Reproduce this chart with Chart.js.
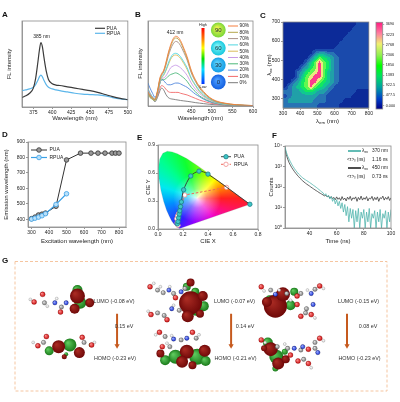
<!DOCTYPE html>
<html>
<head>
<meta charset="utf-8">
<title>PUA / RPUA photophysics</title>
<script src="https://cdn.jsdelivr.net/npm/chart.js@4.4.1/dist/chart.umd.min.js"></script>
<style>
  html, body { margin: 0; padding: 0; background: #fff; }
  #page { position: relative; width: 400px; height: 402px; overflow: hidden; background: #fff; }
  #page canvas { position: absolute; }
  .tag { position: absolute; font: bold 8px 'Liberation Sans', Arial, sans-serif; line-height: 8px; color: #111; }
</style>
</head>
<body>
<div id="page">
  <canvas id="chartA" width="133" height="113" style="left:0px;top:12px"></canvas>
  <canvas id="chartB" width="135" height="113" style="left:130px;top:12px"></canvas>
  <canvas id="chartC" width="112" height="113" style="left:262px;top:12px"></canvas>
  <canvas id="chartCbar" width="28" height="106" style="left:372px;top:12px"></canvas>
  <canvas id="chartD" width="133" height="120" style="left:0px;top:130px"></canvas>
  <canvas id="chartE" width="132" height="120" style="left:133px;top:130px"></canvas>
  <canvas id="chartF" width="135" height="120" style="left:265px;top:130px"></canvas>
  <canvas id="chartG" width="400" height="147" style="left:0px;top:255px"></canvas>
  <div class="tag" style="left:2px;top:11px">A</div>
  <div class="tag" style="left:135px;top:11px">B</div>
  <div class="tag" style="left:260px;top:12px">C</div>
  <div class="tag" style="left:2px;top:131px">D</div>
  <div class="tag" style="left:137px;top:134px">E</div>
  <div class="tag" style="left:272px;top:132px">F</div>
  <div class="tag" style="left:2px;top:257px">G</div>
</div>
<script>
// ---------- A: FL spectra ----------
const aWave  = [360, 365, 370, 375, 378, 381, 383, 385, 387, 389, 392, 395, 400, 405, 410, 420, 430, 440, 450, 460, 470, 480, 490, 500];
const aPUA   = [11, 13, 16, 22, 33, 52, 66, 75, 70, 58, 42, 32, 27, 25.5, 25, 23.5, 22, 20.5, 19, 17, 14.5, 12, 10, 8.5];
const aRPUA  = [19, 20, 21, 23, 26, 31, 35, 37, 35, 31, 26, 23, 21, 20, 19, 17.5, 16, 15, 14.5, 14, 13, 11, 9.5, 8.5];
const aTicks = [375, 400, 425, 450, 475, 500];

// ---------- B: water fraction series ----------
const bWave = [345, 350, 356, 362, 368, 374, 378, 383, 388, 394, 400, 406, 412, 418, 424, 432, 440, 450, 460, 470, 480, 495, 510, 530, 560, 600];
const b90 = [17, 13, 10, 8, 18, 33, 38, 42, 50, 62, 72, 79, 82, 81, 77, 68, 58, 42, 31, 23, 17, 10, 6, 3.5, 1.5, 0.5];
const b80 = [16, 12, 9, 7.5, 17, 32, 37, 41, 49, 61, 70, 77, 80, 79, 75, 66, 56, 41, 30, 22, 16, 9.5, 5.5, 3.2, 1.4, 0.5];
const b70 = [15, 11, 8.5, 7, 16, 31, 36, 40, 47, 58, 67, 73, 76, 75, 71, 63, 54, 39, 29, 21, 15, 9, 5, 3, 1.3, 0.5];
const b60 = [20, 15, 11, 8, 16, 30, 34, 37, 42, 50, 57, 61, 62, 61, 58, 52, 45, 33, 25, 18, 13, 8, 4.5, 2.5, 1.1, 0.4];
const b50 = [14, 10, 8, 6.5, 15, 29, 33, 36, 41, 48, 55, 59, 60, 59, 56, 50, 43, 32, 24, 17, 12, 7.5, 4.2, 2.4, 1, 0.4];
const b40 = [18, 13, 10, 7.5, 15, 28, 32, 33, 35, 40, 45, 47, 48, 47, 45, 41, 36, 27, 20, 15, 11, 6.5, 3.8, 2.2, 1, 0.4];
const b30 = [13, 10, 8, 6.5, 14, 27, 31, 31, 32, 35, 37, 38, 39, 38, 36, 33, 29, 22, 17, 12, 9, 5.5, 3.2, 1.8, 0.8, 0.3];
const b20 = [27, 21, 15, 10, 16, 27, 31, 30, 27, 25, 25, 26, 27, 27, 26, 24, 22, 18, 14, 11, 8, 5, 3, 1.7, 0.8, 0.3];
const b10 = [20, 15, 10, 7, 12, 21, 24, 23, 20, 17, 16, 16, 16, 16, 15, 14, 13, 11, 9, 7, 5.5, 3.5, 2.2, 1.3, 0.6, 0.2];
const b0  = [15, 11, 8, 5, 10, 18, 21, 19, 14, 10, 8.5, 8, 7.5, 7, 6.5, 6, 5.5, 4.8, 4, 3.4, 2.8, 2, 1.4, 0.9, 0.5, 0.2];
const bLabels = ['90%', '80%', '70%', '60%', '50%', '40%', '30%', '20%', '10%', '0%'];
const bColors = ['#f57f3e', '#b4a64c', '#a89088', '#4fd6e0', '#d9bc5b', '#c89be6', '#4cb87a', '#4f86dd', '#f26a6a', '#7a7a7a'];
const bTicks = [450, 500, 550, 600];
const bDrops = ['90', '60', '30', '0'];

// ---------- C: excitation-emission map (levels 0-8, rows from lambda_ex 700 down to 250, columns lambda_em 300..800) ----------
const cRows = [
  '00000000000000000111',
  '00000000000000001111',
  '00000000000000011111',
  '00000000000000111111',
  '00000000000001111111',
  '00000000000011111111',
  '00000002332211111111',
  '00000024654321111111',
  '00000246865321111111',
  '00002356865321111111',
  '00023567864321111111',
  '00024678864321111111',
  '00235688654321111111',
  '02345686543211111111',
  '22334554332111111000',
  '12333333221111110000',
  '23333332221111000000',
  '22222222111110000000'
];
const cEm0 = 300, cExTop = 700, cStep = 25;
const cBarLabels = ['0.000', '477.5', '922.5', '1383', '1850', '2306', '2768', '3223', '3690'];
const cXTicks = [300, 400, 500, 600, 700, 800];
const cYTicks = [300, 400, 500, 600, 700];

// ---------- D: emission vs excitation ----------
const dExPUA  = [300, 320, 340, 360, 380, 440, 500, 580, 640, 680, 720, 760, 780, 800];
const dEmPUA  = [404, 414, 428, 433, 440, 484, 784, 828, 828, 828, 828, 828, 828, 828];
const dExRPUA = [300, 320, 340, 360, 380, 440, 500];
const dEmRPUA = [401, 407, 414, 423, 436, 496, 565];

// ---------- E: CIE 1931 ----------
const cieX = [0.1741, 0.1714, 0.1644, 0.1566, 0.1440, 0.1241, 0.1096, 0.0913, 0.0687, 0.0454, 0.0235, 0.0082, 0.0039, 0.0139, 0.0389, 0.0743, 0.1142, 0.1547, 0.2296, 0.3016, 0.3731, 0.4441, 0.5125, 0.5752, 0.6270, 0.6915, 0.7190, 0.7347];
const cieY = [0.0050, 0.0051, 0.0109, 0.0177, 0.0297, 0.0578, 0.0868, 0.1327, 0.2007, 0.2950, 0.4127, 0.5384, 0.6548, 0.7502, 0.8120, 0.8338, 0.8262, 0.8059, 0.7543, 0.6923, 0.6245, 0.5547, 0.4866, 0.4242, 0.3725, 0.3083, 0.2809, 0.2653];
const ePUAx  = [0.155, 0.160, 0.165, 0.170, 0.174, 0.180, 0.187, 0.205, 0.262, 0.328, 0.400, 0.735];
const ePUAy  = [0.055, 0.080, 0.120, 0.160, 0.195, 0.240, 0.290, 0.420, 0.568, 0.620, 0.588, 0.265];
const eRPUAx = [0.160, 0.152, 0.150, 0.156, 0.165, 0.214, 0.548];
const eRPUAy = [0.040, 0.065, 0.110, 0.140, 0.165, 0.364, 0.446];

// ---------- F: decay curves ----------
const fTime = [22, 23, 24, 25, 26, 27, 28, 29, 30, 31, 32, 33, 34, 35, 36, 37, 38, 39, 40, 41,
  42, 43, 44, 45, 46, 47, 48, 49, 50, 51, 52, 53, 54, 55, 56, 57, 58, 59, 60, 61,
  62, 63, 64, 65, 66, 67, 68, 69, 70, 71, 72, 73, 74, 75, 76, 77, 78, 79, 80, 81,
  82, 83, 84, 85, 86, 87, 88, 89, 90, 91, 92, 93, 94, 95, 96, 97, 98, 99, 100];
const f370 = [9000, 5000, 3200, 2300, 1700, 1250, 980, 780, 630, 520,
  430, 370, 320, 280, 250, 225, 205, 185, 168, 150,
  135, 120, 108, 96, 85, 75, 66, 58, 52, 40,
  47, 33, 40, 26, 34, 20, 28, 15, 24, 12,
  20, 9, 17, 6, 14, 4, 11, 2, 9, 3,
  8, 1, 7, 2, 9, 1, 6, 3, 8, 1,
  6, 2, 9, 1, 5, 3, 7, 1, 6, 2,
  8, 1, 5, 3, 7, 1, 6, 2, 8];
const f450 = [8000, 3800, 2300, 1550, 1150, 880, 700, 560, 460, 380,
  320, 270, 232, 200, 175, 155, 138, 124, 112, 100,
  90, 81, 73, 66, 60, 54, 49, 45, 41, 37,
  40, 33, 36, 29, 34, 27, 31, 24, 33, 25,
  30, 22, 34, 24, 29, 21, 32, 25, 35, 22,
  30, 26, 33, 20, 31, 24, 36, 23, 30, 25,
  34, 21, 29, 26, 35, 22, 31, 24, 33, 20,
  30, 27, 36, 23, 31, 25, 34, 22, 30];

// ---------- G: frontier orbitals (atoms and lobes as bubbles, page units) ----------
const gO = [[33,288],[24,297],[52,309],[37,338],[28,349],[75,339],[85,348],
  [147,279],[174,292],[148,312],[165,318],[157,333],[192,333],[160,350],
  [265,279],[303,290],[327,278],[303,300],[307,314],[318,312],[265,342],[315,353],[327,340],[315,370],[304,367],[296,360]];
const gN = [[46,298],[58,298],[167,283],[180,285],[170,305],[172,341],[186,340],
  [280,288],[318,287],[320,300],[300,352],[309,350],[325,357]];
const gC = [[35,298],[53,303],[34,345],[77,345],
  [155,283],[161,286],[172,287],[184,281],[155,310],[162,313],[178,307],[163,338],[180,342],[196,340],[168,350],
  [275,283],[292,287],[307,287],[322,282],[313,305],[312,310],[282,350],[293,352],[307,354],[322,352],[322,345],[310,365]];
const gH = [[20,294],[38,302],[48,293],[23,345],[88,345],
  [151,275],[158,279],[168,279],[145,308],[172,301],[153,336],[170,337],[199,336],[165,346],
  [268,284],[284,283],[314,283],[331,281],[322,316],[296,295],[269,345],[331,343],[318,375],[290,347]];
const gRed = [[70,290,7.5],[83,298,4.5],[67,305,5],[50,350,6.5],[72,357,5.5],[56,362,2.5],
  [190,298,11.5],[187,314,6],[190,274,4],[203,290,5],[200,311,4],[186,356,7],[181,368,6],[158,358,4],[205,355,6],[192,372,4],
  [280,302,11.5],[288,288,7],[271,297,5],[275,353,7],[283,370,6],[291,365,4],[268,352,3]];
const gGreen = [[70,283,5],[73,298,6],[40,355,4.5],[62,348,6.5],[58,359,2],[84,348,2],
  [196,305,7],[186,279,4],[195,285,4],[204,302,5],[174,362,7],[197,362,8],[163,366,5],[206,367,5],
  [274,295,5],[296,301,5],[300,285,4],[283,292,4],[272,345,5],[281,362,7],[280,376,3],[290,356,3]];
const gArrowX = [112, 233, 356];
const gArrowY = [311, 349];
const gLumo = ['LUMO (-0.08 eV)', 'LUMO (-0.07 eV)', 'LUMO (-0.15 eV)'];
const gHomo = ['HOMO (-0.23 eV)', 'HOMO (-0.21 eV)', 'HOMO (-0.23 eV)'];
const gGap  = ['0.15 eV', '0.14 eV', '0.08 eV'];

// ================= helpers =================
const FONT = "'Liberation Sans', Arial, sans-serif";
Chart.defaults.font.family = FONT;
Chart.defaults.color = '#222';
Chart.defaults.animation = false;
Chart.defaults.events = [];
Chart.defaults.plugins.legend.display = false;
Chart.defaults.plugins.tooltip.enabled = false;

const tickFont = { size: 5 };
const titleFont = { size: 6 };
const gridOpt = { display: true, drawOnChartArea: false, drawTicks: true, tickLength: 2, color: '#555', lineWidth: 0.6 };
const borderOpt = { display: true, color: '#8a8a8a', width: 0.8 };
const sup = ['\u2070', '\u00b9', '\u00b2', '\u00b3', '\u2074'];

const xy = (xs, ys) => xs.map((v, i) => ({ x: v, y: ys[i] }));

function axis(o) {
  const a = {
    type: o.type || 'linear', min: o.min, max: o.max,
    ticks: { display: !o.noLabels, font: tickFont, padding: 1, maxRotation: 0, autoSkip: false, color: '#222' },
    grid: o.noTicks ? { display: false } : gridOpt,
    border: borderOpt,
    title: { display: !!o.title, text: o.title || '', font: titleFont, color: '#222', padding: o.tpad || 0 }
  };
  if (o.position) a.position = o.position;
  if (o.fmt) a.ticks.callback = o.fmt;
  if (o.ticks) a.afterBuildTicks = s => { s.ticks = o.ticks.map(v => ({ value: v })); };
  if (o.size != null) a.afterFit = s => { if (s.isHorizontal()) s.height = o.size; else s.width = o.size; };
  return a;
}

const frame = {
  id: 'frame',
  afterDatasetsDraw(chart) {
    const { ctx, chartArea: a } = chart;
    ctx.save();
    ctx.strokeStyle = '#8a8a8a';
    ctx.lineWidth = 0.8;
    ctx.strokeRect(a.left, a.top, a.right - a.left, a.bottom - a.top);
    ctx.restore();
  }
};

// draws extra marks in page coordinates
function deco(draw) {
  return {
    id: 'deco',
    afterDraw(chart) {
      const c = chart.ctx, cv = chart.canvas;
      c.save();
      c.translate(-cv.offsetLeft, -cv.offsetTop);
      draw(c, chart);
      c.restore();
    }
  };
}

function txt(c, s, x, y, size, align, color) {
  c.font = size + 'px ' + FONT;
  c.fillStyle = color || '#222';
  c.textAlign = align || 'left';
  c.textBaseline = 'middle';
  c.fillText(s, x, y);
}

function rich(c, parts, x, y, size, align) {
  const sz = p => (p[1] ? size * 0.72 : size);
  let w = 0;
  parts.forEach(p => { c.font = sz(p) + 'px ' + FONT; w += c.measureText(p[0]).width; });
  let cx = align === 'center' ? x - w / 2 : x;
  c.textAlign = 'left';
  c.textBaseline = 'middle';
  c.fillStyle = '#222';
  parts.forEach(p => {
    c.font = sz(p) + 'px ' + FONT;
    c.fillText(p[0], cx, y + (p[1] === 'sub' ? size * 0.3 : 0));
    cx += c.measureText(p[0]).width;
  });
}

function legLine(c, x1, x2, y, color, w, dash) {
  c.save();
  c.strokeStyle = color;
  c.lineWidth = w;
  if (dash) c.setLineDash(dash);
  c.beginPath(); c.moveTo(x1, y); c.lineTo(x2, y); c.stroke();
  c.restore();
}

function dot(c, x, y, r, fill, stroke) {
  c.beginPath(); c.arc(x, y, r, 0, Math.PI * 2);
  c.fillStyle = fill; c.fill();
  c.lineWidth = 0.8; c.strokeStyle = stroke; c.stroke();
}

// ================= A =================
new Chart(document.getElementById('chartA'), {
  type: 'line',
  data: { datasets: [
    { data: xy(aWave, aPUA), borderColor: '#3b3b3b', borderWidth: 1.2, pointRadius: 0, cubicInterpolationMode: 'monotone' },
    { data: xy(aWave, aRPUA), borderColor: '#5cb6ea', borderWidth: 1.2, pointRadius: 0, cubicInterpolationMode: 'monotone' }
  ]},
  options: {
    responsive: false,
    layout: { padding: { left: 0, top: 9, right: 5, bottom: 0 } },
    scales: {
      x: axis({ min: 360, max: 500, ticks: aTicks, title: 'Wavelength (nm)', tpad: { top: 0, bottom: 3 }, size: 18 }),
      y: axis({ min: 0, max: 100, noLabels: true, noTicks: true, title: 'FL intensity', tpad: { top: 6, bottom: 0 }, size: 22 })
    }
  },
  plugins: [frame, deco(c => {
    legLine(c, 95, 105, 28.3, '#3b3b3b', 1.2);
    txt(c, 'PUA', 106.5, 28.3, 5);
    legLine(c, 95, 105, 33.3, '#5cb6ea', 1.2);
    txt(c, 'RPUA', 106.5, 33.3, 5);
    txt(c, '385 nm', 41.5, 37, 5, 'center');
  })]
});

// ================= B =================
const bSeries = [b90, b80, b70, b60, b50, b40, b30, b20, b10, b0];
new Chart(document.getElementById('chartB'), {
  type: 'line',
  data: { datasets: bSeries.map((s, i) => ({
    data: xy(bWave, s), borderColor: bColors[i], borderWidth: 0.9, pointRadius: 0, cubicInterpolationMode: 'monotone'
  })) },
  options: {
    responsive: false,
    layout: { padding: { left: 0, top: 9, right: 12, bottom: 0 } },
    scales: {
      x: axis({ min: 345, max: 600, ticks: bTicks, title: 'Wavelength (nm)', tpad: { top: 0, bottom: 3 }, size: 19 }),
      y: axis({ min: 0, max: 100, noLabels: true, noTicks: true, title: 'FL intensity', tpad: { top: 6.4, bottom: 0 }, size: 18 })
    }
  },
  plugins: [frame, deco(c => {
    txt(c, '412 nm', 175, 33, 5, 'center');
    // High / Low scale
    const g = c.createLinearGradient(0, 28, 0, 84);
    g.addColorStop(0, '#ff0000'); g.addColorStop(0.2, '#ff8000'); g.addColorStop(0.36, '#ffff00');
    g.addColorStop(0.55, '#00e000'); g.addColorStop(0.74, '#00e0ff'); g.addColorStop(1, '#0030ff');
    c.fillStyle = g; c.fillRect(201.5, 28, 3, 56);
    txt(c, 'High', 203, 25, 3.8, 'center');
    txt(c, 'Low', 203, 87.3, 3.8, 'center');
    // droplets
    const inner = ['#e8f44a', '#7af4f8', '#5ad0fa', '#4a9cff'];
    const outer = ['#7ad63a', '#18c8de', '#139ee6', '#1460e0'];
    const cy = [30, 48, 65, 82];
    bDrops.forEach((s, i) => {
      const rg = c.createRadialGradient(217, cy[i] - 2, 1, 218.3, cy[i], 7.4);
      rg.addColorStop(0, inner[i]); rg.addColorStop(1, outer[i]);
      c.beginPath(); c.arc(218.3, cy[i], 7.4, 0, Math.PI * 2); c.fillStyle = rg; c.fill();
      txt(c, s, 218.3, cy[i] + 0.3, 6, 'center', '#1a2a3a');
    });
    // legend
    bLabels.forEach((s, i) => {
      const y = 26 + i * 6.3;
      legLine(c, 228, 238, y, bColors[i], 1);
      txt(c, s, 239.5, y, 4.8);
    });
  })]
});

// ================= C =================
const heatRGB = [[12, 42, 152], [26, 74, 172], [40, 116, 180], [32, 160, 168], [16, 200, 144], [16, 232, 96], [96, 248, 80], [234, 234, 128], [255, 60, 140]];
const cCells = [];
cRows.forEach((row, r) => {
  for (let k = 0; k < row.length; k++) {
    cCells.push({ x: cEm0 + cStep * k + cStep / 2, y: cExTop - cStep * r - cStep / 2, v: +row[k], r: r, c: k });
  }
});

const heat = {
  id: 'heat',
  beforeDatasetsDraw(chart) {
    const { ctx, chartArea: a, scales: { x, y } } = chart;
    const cells = chart.data.datasets[0].data;
    const grid = [];
    cells.forEach(p => { (grid[p.r] = grid[p.r] || [])[p.c] = p.v; });
    const nr = grid.length, nc = grid[0].length;
    const x0 = cells[0].x, y0 = cells[0].y;
    const s = 3;
    const w = Math.round(a.right - a.left), h = Math.round(a.bottom - a.top);
    const off = document.createElement('canvas');
    off.width = w * s; off.height = h * s;
    const oc = off.getContext('2d');
    const img = oc.createImageData(w * s, h * s);
    for (let j = 0; j < h * s; j++) {
      const ex = y.getValueForPixel(a.top + (j + 0.5) / s);
      const fr = Math.min(Math.max((y0 - ex) / cStep, 0), nr - 1);
      const r0 = Math.min(Math.floor(fr), nr - 2), tr = fr - r0;
      for (let i = 0; i < w * s; i++) {
        const em = x.getValueForPixel(a.left + (i + 0.5) / s);
        const fc = Math.min(Math.max((em - x0) / cStep, 0), nc - 1);
        const c0 = Math.min(Math.floor(fc), nc - 2), tc = fc - c0;
        const v = grid[r0][c0] * (1 - tr) * (1 - tc) + grid[r0][c0 + 1] * (1 - tr) * tc +
                  grid[r0 + 1][c0] * tr * (1 - tc) + grid[r0 + 1][c0 + 1] * tr * tc;
        const col = heatRGB[Math.round(v)];
        const k = (j * w * s + i) * 4;
        img.data[k] = col[0]; img.data[k + 1] = col[1]; img.data[k + 2] = col[2]; img.data[k + 3] = 255;
      }
    }
    oc.putImageData(img, 0, 0);
    ctx.save();
    ctx.drawImage(off, a.left, a.top, w, h);
    ctx.restore();
  }
};

new Chart(document.getElementById('chartC'), {
  type: 'scatter',
  data: { datasets: [{ data: cCells, pointRadius: 0 }] },
  options: {
    responsive: false,
    layout: { padding: { left: 0, top: 10, right: 2, bottom: 0 } },
    scales: {
      x: axis({ min: 300, max: 800, ticks: cXTicks, size: 17 }),
      y: axis({ min: 250, max: 700, ticks: cYTicks, size: 21 })
    }
  },
  plugins: [heat, frame, deco(c => {
    rich(c, [['\u03bb', ''], ['em', 'sub'], [' (nm)', '']], 327.5, 121.5, 6, 'center');
    c.save();
    c.translate(269.5, 65);
    c.rotate(-Math.PI / 2);
    rich(c, [['\u03bb', ''], ['ex', 'sub'], [' (nm)', '']], 0, 0, 6, 'center');
    c.restore();
  })]
});

new Chart(document.getElementById('chartCbar'), {
  type: 'bar',
  data: { labels: ['I'], datasets: [{
    data: [[-0.35, 8.2]], borderWidth: 0, barPercentage: 1, categoryPercentage: 1,
    backgroundColor: ctx => {
      const a = ctx.chart.chartArea;
      if (!a) return '#00ff00';
      const g = ctx.chart.ctx.createLinearGradient(0, a.bottom, 0, a.top);
      g.addColorStop(0, '#000088'); g.addColorStop(0.12, '#0040c8'); g.addColorStop(0.25, '#00a0a0');
      g.addColorStop(0.38, '#00e060'); g.addColorStop(0.5, '#00ff00'); g.addColorStop(0.62, '#90f050');
      g.addColorStop(0.75, '#f0f070'); g.addColorStop(0.87, '#ff80a0'); g.addColorStop(1, '#ff1a80');
      return g;
    }
  }] },
  options: {
    responsive: false,
    layout: { padding: { left: 4, top: 10.3, right: 0, bottom: 9 } },
    scales: {
      x: { display: false },
      y: {
        position: 'right', min: -0.35, max: 8.2,
        afterBuildTicks: s => { s.ticks = cBarLabels.map((t, i) => ({ value: i })); },
        ticks: { font: { size: 3.8 }, padding: 1.5, color: '#222', callback: v => cBarLabels[Math.round(v)] },
        grid: { display: true, drawOnChartArea: false, tickLength: 1.5, color: '#555', lineWidth: 0.5 },
        border: { display: false },
        afterFit: s => { s.width = 17.3; }
      }
    }
  },
  plugins: [frame]
});

// ================= D =================
new Chart(document.getElementById('chartD'), {
  type: 'line',
  data: { datasets: [
    { data: xy(dExRPUA, dEmRPUA), borderColor: '#3aa0e6', borderWidth: 1.2, pointRadius: 2.3,
      pointBackgroundColor: '#b8e0fa', pointBorderColor: '#3aa0e6', pointBorderWidth: 0.8 },
    { data: xy(dExPUA, dEmPUA), borderColor: '#333', borderWidth: 1, pointRadius: 2.3,
      pointBackgroundColor: '#9a9a9a', pointBorderColor: '#333', pointBorderWidth: 0.8 }
  ]},
  options: {
    responsive: false,
    layout: { padding: { left: 0, top: 12, right: 7, bottom: 0 } },
    scales: {
      x: axis({ min: 280, max: 840, ticks: [300, 400, 500, 600, 700, 800], title: 'Excitation wavelength (nm)', tpad: { top: 0, bottom: 4.7 }, size: 23 }),
      y: axis({ min: 350, max: 900, ticks: [400, 500, 600, 700, 800, 900], title: 'Emission wavelength (nm)', tpad: { top: 3.1, bottom: 0 }, size: 28 })
    }
  },
  plugins: [frame, deco(c => {
    legLine(c, 31, 47, 150, '#333', 1);
    dot(c, 39, 150, 2.3, '#9a9a9a', '#333');
    txt(c, 'PUA', 49.5, 150, 5);
    legLine(c, 31, 47, 157.5, '#3aa0e6', 1.2);
    dot(c, 39, 157.5, 2.3, '#b8e0fa', '#3aa0e6');
    txt(c, 'RPUA', 49.5, 157.5, 5);
  })]
});

// ================= E =================
const gamut = {
  id: 'gamut',
  beforeDatasetsDraw(chart) {
    const { ctx, chartArea: a, scales: { x, y } } = chart;
    const d = chart.data.datasets[0].data;
    ctx.save();
    ctx.beginPath();
    d.forEach((p, i) => {
      const px = x.getPixelForValue(p.x), py = y.getPixelForValue(p.y);
      if (i) ctx.lineTo(px, py); else ctx.moveTo(px, py);
    });
    ctx.closePath();
    ctx.clip();
    const wx = x.getPixelForValue(0.3127), wy = y.getPixelForValue(0.329);
    const g = ctx.createConicGradient(0, wx, wy);
    g.addColorStop(0, '#ff2020'); g.addColorStop(0.06, '#ff1070'); g.addColorStop(0.14, '#f000d0');
    g.addColorStop(0.27, '#9000ff'); g.addColorStop(0.35, '#3020ff'); g.addColorStop(0.47, '#0090ff');
    g.addColorStop(0.55, '#00e8f0'); g.addColorStop(0.63, '#00ff90'); g.addColorStop(0.7, '#10ff30');
    g.addColorStop(0.8, '#a0ff00'); g.addColorStop(0.87, '#ffff00'); g.addColorStop(0.93, '#ff9000');
    g.addColorStop(1, '#ff2020');
    ctx.fillStyle = g;
    ctx.fillRect(a.left, a.top, a.right - a.left, a.bottom - a.top);
    const rg = ctx.createRadialGradient(wx, wy, 0, wx, wy, 24);
    rg.addColorStop(0, 'rgba(255,255,255,0.9)');
    rg.addColorStop(0.4, 'rgba(255,255,255,0.4)');
    rg.addColorStop(1, 'rgba(255,255,255,0)');
    ctx.fillStyle = rg;
    ctx.fillRect(a.left, a.top, a.right - a.left, a.bottom - a.top);
    ctx.restore();
  }
};

const locus = xy(cieX, cieY);
locus.push({ x: cieX[0], y: cieY[0] });
new Chart(document.getElementById('chartE'), {
  type: 'line',
  data: { datasets: [
    { data: locus, borderColor: 'rgba(140,140,140,0.5)', borderWidth: 0.4, pointRadius: 0, tension: 0.01, order: 3 },
    { data: xy(ePUAx, ePUAy), borderColor: '#333', borderWidth: 0.9, tension: 0.3, pointRadius: 2.2,
      pointBackgroundColor: '#3dc6c6', pointBorderColor: '#1d7f86', pointBorderWidth: 0.8, order: 1 },
    { data: xy(eRPUAx, eRPUAy), borderColor: '#f06a5a', borderWidth: 1, borderDash: [2.5, 1.8], pointRadius: 2.2,
      pointBackgroundColor: '#ffffff', pointBorderColor: '#f08c8c', pointBorderWidth: 0.8, order: 2 }
  ]},
  options: {
    responsive: false,
    layout: { padding: { left: 0, top: 15, right: 7, bottom: 0 } },
    scales: {
      x: axis({ min: 0, max: 0.8, ticks: [0, 0.2, 0.4, 0.6, 0.8], fmt: v => v.toFixed(1), title: 'CIE X', tpad: { top: 0, bottom: 4.7 }, size: 21 }),
      y: axis({ min: 0, max: 0.9, ticks: [0, 0.3, 0.6, 0.9], fmt: v => v.toFixed(1), title: 'CIE Y', tpad: { top: 11.7, bottom: 0 }, size: 25 })
    }
  },
  plugins: [gamut, frame, deco(c => {
    legLine(c, 221, 231, 156.7, '#333', 0.9);
    dot(c, 226, 156.7, 2.2, '#3dc6c6', '#1d7f86');
    txt(c, 'PUA', 234, 156.7, 5);
    legLine(c, 221, 231, 164.3, '#f06a5a', 1, [2.5, 1.8]);
    dot(c, 226, 164.3, 2.2, '#ffffff', '#f08c8c');
    txt(c, 'RPUA', 234, 164.3, 5);
  })]
});

// ================= F =================
new Chart(document.getElementById('chartF'), {
  type: 'line',
  data: { datasets: [
    { data: xy(fTime, f370), borderColor: '#52b5ad', borderWidth: 0.8, pointRadius: 0 },
    { data: xy(fTime, f450), borderColor: '#3a3a3a', borderWidth: 0.8, pointRadius: 0 }
  ]},
  options: {
    responsive: false,
    layout: { padding: { left: 0, top: 16, right: 9, bottom: 0 } },
    scales: {
      x: axis({ min: 22, max: 100, ticks: [40, 60, 80, 100], title: 'Time (ns)', tpad: { top: 0, bottom: 5.4 }, size: 22 }),
      y: axis({ type: 'logarithmic', min: 1, max: 10000, ticks: [1, 10, 100, 1000, 10000],
        fmt: v => '10' + sup[Math.round(Math.log10(v))], title: 'Counts', tpad: { top: 3.1, bottom: 0 }, size: 20 })
    }
  },
  plugins: [frame, deco(c => {
    legLine(c, 348, 361, 151, '#52b5ad', 1.8);
    rich(c, [['\u03bb', ''], ['ex', 'sub']], 362, 151, 4.8);
    txt(c, '370 nm', 372, 151, 4.8);
    rich(c, [['<\u03c4>', ''], ['f', 'sub'], [' (ns)', '']], 347, 159.5, 4.8);
    txt(c, '1.16 ns', 372, 159.5, 4.8);
    legLine(c, 348, 361, 168, '#3a3a3a', 1.8);
    rich(c, [['\u03bb', ''], ['ex', 'sub']], 362, 168, 4.8);
    txt(c, '450 nm', 372, 168, 4.8);
    rich(c, [['<\u03c4>', ''], ['f', 'sub'], [' (ns)', '']], 347, 176.5, 4.8);
    txt(c, '0.73 ns', 372, 176.5, 4.8);
  })]
});

// ================= G =================
function bubbles(list, r) { return list.map(p => ({ x: p[0], y: p[1], r: p.length > 2 ? p[2] : r })); }
function ball(base, light) {
  return ctx => {
    const p = ctx.raw;
    const ch = ctx.chart;
    if (!p || !ch.scales || !ch.scales.x || !ch.scales.y) return base;
    const px = ch.scales.x.getPixelForValue(p.x), py = ch.scales.y.getPixelForValue(p.y);
    if (!isFinite(px) || !isFinite(py) || !(p.r > 0)) return base;
    const g = ch.ctx.createRadialGradient(px - p.r * 0.35, py - p.r * 0.35, p.r * 0.1, px, py, p.r);
    g.addColorStop(0, light);
    g.addColorStop(1, base);
    return g;
  };
}

const gSets = [
  { data: bubbles(gO, 2.5), backgroundColor: ball('#c80e0e', '#ff8a8a'), borderColor: '#700', borderWidth: 0.3, order: 1 },
  { data: bubbles(gN, 2.2), backgroundColor: ball('#1530d8', '#9aaaff'), borderColor: '#113', borderWidth: 0.3, order: 1 },
  { data: bubbles(gC, 2.2), backgroundColor: ball('#777777', '#e4e4e4'), borderColor: '#444', borderWidth: 0.3, order: 1 },
  { data: bubbles(gH, 1.5), backgroundColor: ball('#cfcfcf', '#ffffff'), borderColor: '#888', borderWidth: 0.3, order: 1 },
  { data: bubbles(gRed), backgroundColor: ball('#6e0808', '#a82a22'), borderWidth: 0, order: 2 },
  { data: bubbles(gGreen), backgroundColor: ball('#1a7a1a', '#5cc85c'), borderWidth: 0, order: 3 }
];
gArrowX.forEach(ax => {
  gSets.push({
    type: 'line', data: gArrowY.map(v => ({ x: ax, y: v })), borderColor: '#c65a1e', borderWidth: 2,
    pointRadius: [0, 3], pointStyle: 'triangle', pointRotation: 180,
    pointBackgroundColor: '#c65a1e', pointBorderWidth: 0, order: 0
  });
});

new Chart(document.getElementById('chartG'), {
  type: 'bubble',
  data: { datasets: gSets },
  options: {
    responsive: false,
    layout: { padding: 0 },
    scales: {
      x: { type: 'linear', min: 0, max: 400, display: false },
      y: { type: 'linear', min: 255, max: 402, reverse: true, display: false }
    }
  },
  plugins: [deco(c => {
    c.save();
    c.strokeStyle = '#f5c5a0';
    c.lineWidth = 1;
    c.setLineDash([3, 2]);
    c.strokeRect(15, 261.5, 372, 129.5);
    c.restore();
    const lx = [114, 234.5, 358.5];
    gArrowX.forEach((ax, i) => {
      txt(c, gLumo[i], lx[i], 302, 5.4, 'center', '#333');
      txt(c, gHomo[i], lx[i] + 1, 359, 5.4, 'center', '#333');
      txt(c, gGap[i], ax + 12, 327, 5.4, 'center', '#333');
    });
  })]
});
</script>
</body>
</html>
